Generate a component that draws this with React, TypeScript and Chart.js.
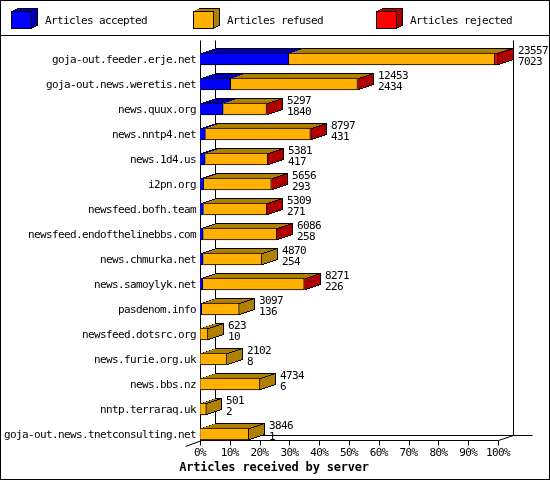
import { useEffect, useRef } from "react"
import { Chart, registerables } from "chart.js"

Chart.register(...registerables)

const servers = [
  "goja-out.feeder.erje.net", "goja-out.news.weretis.net", "news.quux.org", "news.nntp4.net",
  "news.1d4.us", "i2pn.org", "newsfeed.bofh.team", "newsfeed.endofthelinebbs.com",
  "news.chmurka.net", "news.samoylyk.net", "pasdenom.info", "newsfeed.dotsrc.org",
  "news.furie.org.uk", "news.bbs.nz", "nntp.terraraq.uk", "goja-out.news.tnetconsulting.net",
]
const totals = [23557, 12453, 5297, 8797, 5381, 5656, 5309, 6086, 4870, 8271, 3097, 623, 2102, 4734, 501, 3846]
const accepted = [7023, 2434, 1840, 431, 417, 293, 271, 258, 254, 226, 136, 10, 8, 6, 2, 1]
const refused = [16274, 10014, 3417, 8296, 4934, 5343, 4998, 5808, 4616, 8015, 2961, 613, 2094, 4728, 499, 3845]
const rejected = [260, 5, 40, 70, 30, 20, 40, 20, 0, 30, 0, 0, 0, 0, 0, 0]
const tickPercents = [0, 10, 20, 30, 40, 50, 60, 70, 80, 90, 100]
const axisMax = 23557

const faces = ["#0000ff", "#ffb000", "#ff0000"]
const shades = ["#0000b0", "#b08000", "#b00000"]
const legendNames = ["Articles accepted", "Articles refused", "Articles rejected"]
const legendX = [11, 193, 376]
const axisTitle = "Articles received by server"

const MONO = "'DejaVu Sans Mono', monospace"
const DX = 15
const DY = 5

// stepped, not anti-aliased faces like the original GD image
function topFace(ctx: CanvasRenderingContext2D, x0: number, x1: number, top: number, color: string) {
  ctx.fillStyle = color
  for (let i = 1; i <= DY; i++) {
    ctx.fillRect(x0 + i * 3, top - i, x1 - x0, 1)
  }
}

function sideFace(ctx: CanvasRenderingContext2D, x: number, top: number, bottom: number, color: string, dx = DX, run = 3) {
  for (let i = 0; i <= dx; i++) {
    const up = Math.round(i / run)
    ctx.fillStyle = color
    ctx.fillRect(x + i, top - up, 1, bottom - top)
    ctx.fillStyle = "#000"
    ctx.fillRect(x + i, top - up, 1, 1)
    ctx.fillRect(x + i, bottom - up - 1, 1, 1)
  }
  ctx.fillStyle = "#000"
  ctx.fillRect(x + dx, top - Math.round(dx / run), 1, bottom - top)
}

function line(ctx: CanvasRenderingContext2D, x0: number, y0: number, x1: number, y1: number) {
  ctx.beginPath()
  ctx.moveTo(x0 + 0.5, y0 + 0.5)
  ctx.lineTo(x1 + 0.5, y1 + 0.5)
  ctx.stroke()
}

const usenetPlugin = {
  id: "usenet3d",
  beforeDraw(chart: any) {
    // taller glyphs on the 6px pitch of the original bitmap font
    chart.ctx.letterSpacing = "-0.62px"
  },
  beforeDatasetsDraw(chart: any) {
    const ctx = chart.ctx
    const xScale = chart.scales.x
    const left = Math.round(xScale.getPixelForValue(0))
    const right = Math.round(xScale.getPixelForValue(axisMax))
    ctx.save()
    ctx.strokeStyle = "#000"
    ctx.lineWidth = 1

    // outer frame and legend rule
    ctx.strokeRect(0.5, 0.5, 549, 479)
    line(ctx, 0, 35, 549, 35)

    // legend cubes and names
    ctx.font = `11px ${MONO}`
    ctx.textBaseline = "middle"
    legendNames.forEach((name, i) => {
      const x = legendX[i]
      sideFace(ctx, x + 20, 11, 29, shades[i], 6, 2)
      ctx.fillStyle = shades[i]
      ctx.fillRect(x + 2, 10, 21, 1)
      ctx.fillRect(x + 4, 9, 21, 1)
      ctx.fillStyle = "#000"
      ctx.fillRect(x + 6, 8, 21, 1)
      ctx.fillStyle = faces[i]
      ctx.fillRect(x, 11, 20, 17)
      ctx.strokeRect(x + 0.5, 11.5, 20, 17)
      ctx.fillStyle = "#000"
      ctx.fillText(name, x + 34, 21)
    })

    // walls and floor
    line(ctx, left, 40, left, 440)
    line(ctx, left + DX, 40, left + DX, 435)
    line(ctx, right + DX, 40, right + DX, 435)
    line(ctx, left + DX, 435, 532, 435)
    line(ctx, left, 440, right, 440)
    line(ctx, 185, 446, left + DX, 435)
    line(ctx, right, 440, right + DX, 435)
    tickPercents.forEach(p => {
      const x = Math.round(xScale.getPixelForValue((axisMax * p) / 100))
      line(ctx, x, 440, x, 445)
    })

    // depth of every stacked bar
    servers.forEach((_, row) => {
      let end = left
      let lastShade = shades[0]
      let top = 0
      let bottom = 0
      chart.data.datasets.forEach((_ds: any, d: number) => {
        const bar = chart.getDatasetMeta(d).data[row] as any
        const value = chart.data.datasets[d].data[row]
        const x = Math.round(bar.x)
        top = Math.round(bar.y - 6)
        bottom = top + 12
        if (value > 0) {
          topFace(ctx, end, x, top, shades[d])
          lastShade = shades[d]
          end = x
        }
      })
      ctx.fillStyle = "#000"
      ctx.fillRect(left + DX, top - DY, end - left, 1)
      for (let i = 1; i <= DY; i++) ctx.fillRect(left + i * 3, top - i, 1, 1)
      sideFace(ctx, end, top, bottom, lastShade)
    })
    ctx.restore()
  },
  afterDatasetsDraw(chart: any) {
    const ctx = chart.ctx
    ctx.save()
    ctx.font = `11px ${MONO}`
    ctx.fillStyle = "#000"
    ctx.textBaseline = "middle"
    servers.forEach((_, row) => {
      const bar = chart.getDatasetMeta(2).data[row] as any
      const x = Math.round(bar.x) + DX + 5
      ctx.fillText(String(totals[row]), x, bar.y - 8)
      ctx.fillText(String(accepted[row]), x, bar.y + 3)
    })
    ctx.letterSpacing = "-0.2px"
    ctx.font = `bold 12px ${MONO}`
    ctx.textAlign = "center"
    ctx.fillText(axisTitle, 274, 468)
    ctx.restore()
  },
}

export default function App() {
  const chartRef = useRef<HTMLCanvasElement | null>(null)

  useEffect(() => {
    if (!chartRef.current) return

    const myChart = new Chart(chartRef.current, {
      type: "bar",
      data: {
        labels: servers,
        datasets: [accepted, refused, rejected].map((values, i) => ({
          label: legendNames[i],
          data: values,
          backgroundColor: faces[i],
          borderColor: "#000",
          borderWidth: 1,
          barThickness: 12,
        })),
      },
      options: {
        indexAxis: "y",
        animation: false,
        responsive: false,
        devicePixelRatio: 1,
        layout: { padding: { top: 46.5, right: 52, bottom: 0, left: 0 } },
        plugins: {
          legend: { display: false },
          tooltip: { enabled: false },
        },
        scales: {
          x: {
            stacked: true,
            min: 0,
            max: axisMax,
            grid: { display: false, drawTicks: false },
            border: { display: false },
            afterBuildTicks: (scale: any) => {
              scale.ticks = tickPercents.map(p => ({ value: (axisMax * p) / 100 }))
            },
            afterFit: (scale: any) => {
              scale.height = 33.5
            },
            ticks: {
              autoSkip: false,
              maxRotation: 0,
              padding: 0,
              color: "#000",
              font: { family: MONO, size: 11 },
              callback: (value: any) => `${Math.round((Number(value) / axisMax) * 100)}%`,
            },
          },
          y: {
            stacked: true,
            grid: { display: false, drawTicks: false },
            border: { display: false },
            afterFit: (scale: any) => {
              scale.width = 200
            },
            ticks: {
              autoSkip: false,
              padding: 4,
              labelOffset: 1,
              color: "#000",
              font: { family: MONO, size: 11 },
            },
          },
        },
      },
      plugins: [usenetPlugin],
    } as any)

    return () => {
      myChart.destroy()
    }
  }, [])

  return (
    <div style={{ position: "absolute", left: 0, top: 0, width: 550, height: 480, background: "#fff" }}>
      <canvas ref={chartRef} width={550} height={480} style={{ display: "block" }} />
    </div>
  )
}
